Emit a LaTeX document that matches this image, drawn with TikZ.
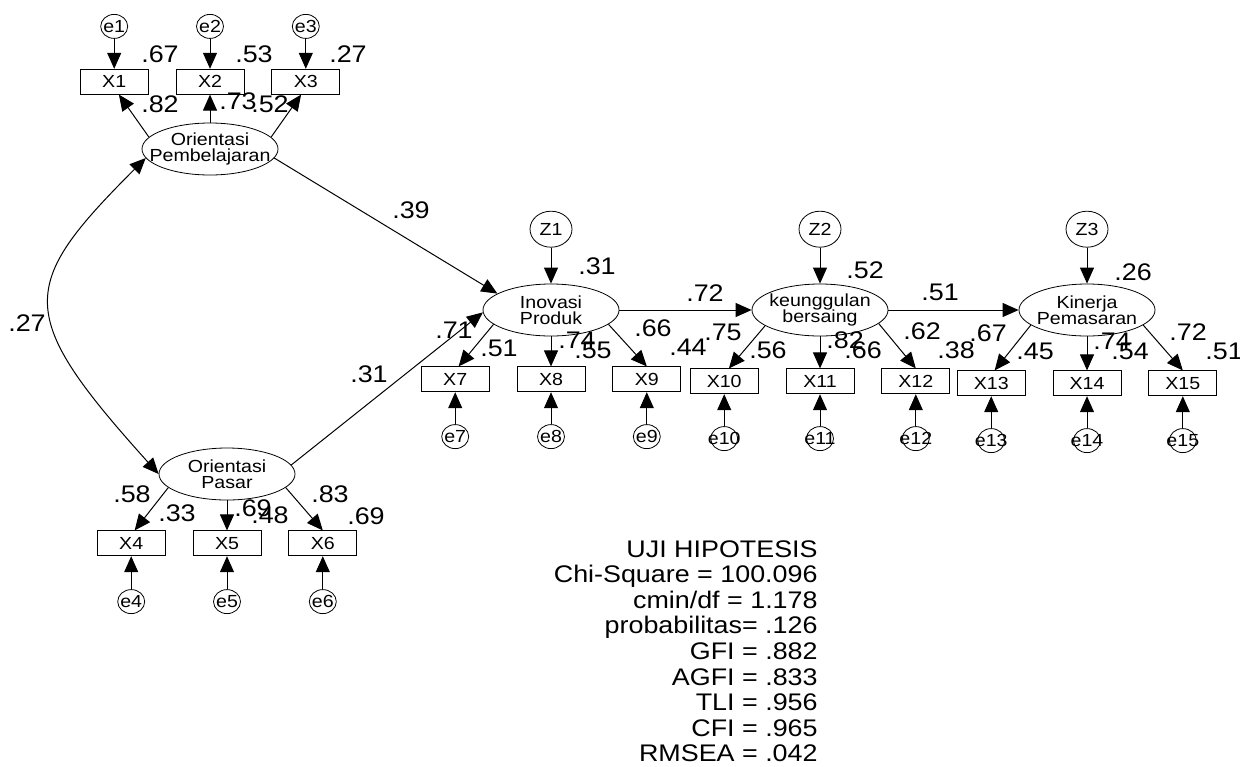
\documentclass[tikz,border=0pt]{standalone}
\usepackage{fontspec}
\setmainfont{Liberation Sans}[FakeStretch=1.12]
\usepackage{tikz}
\usetikzlibrary{arrows.meta,positioning,shapes.geometric}

\newcommand{\smallfnt}{\fontsize{8.75}{8}\selectfont\lineskiplimit=-5pt}
\newcommand{\bigfnt}{\fontsize{12}{12.8}\selectfont}

\begin{document}
\begin{tikzpicture}[
x=0.5pt, y=-0.5pt,
latent/.style={draw, ellipse, minimum width=68pt, minimum height=26pt, inner xsep=-12pt, inner ysep=0pt, align=center, font=\smallfnt},
obs/.style={draw, rectangle, minimum width=34pt, minimum height=12.5pt, inner sep=0pt, font=\smallfnt},
err/.style={draw, ellipse, minimum width=13.5pt, minimum height=12pt, inner xsep=-8pt, inner ysep=-4pt, font=\smallfnt},
dist/.style={draw, ellipse, minimum width=21pt, minimum height=18pt, inner sep=0pt, font=\smallfnt},
coef/.style={inner sep=0pt, font=\bigfnt},
arr/.style={-{Triangle[length=8pt,width=7pt]}, line width=0.5pt},
dblarr/.style={{Triangle[length=8pt,width=7pt]}-{Triangle[length=8pt,width=7pt]}, line width=0.5pt}
]
\useasboundingbox (0,0) rectangle (1240,766);

\node[latent] (OP) at (210,149) {Orientasi\\Pembelajaran};
\node[latent] (PS) at (227,474) {Orientasi\\Pasar};
\node[latent] (IP) at (551,310) {Inovasi\\Produk};
\node[latent] (KB) at (820,310) {keunggulan\\bersaing};
\node[latent] (KP) at (1087,310) {Kinerja\\Pemasaran};

\node[obs, above=14pt of OP] (X2) {X2};
\node[obs, left=13.5pt of X2] (X1) {X1};
\node[obs, right=13.5pt of X2] (X3) {X3};
\node[obs, below=15pt of PS] (X5) {X5};
\node[obs, left=13.5pt of X5] (X4) {X4};
\node[obs, right=13.5pt of X5] (X6) {X6};
\node[obs, below=15pt of IP] (X8) {X8};
\node[obs, left=13.5pt of X8] (X7) {X7};
\node[obs, right=13.5pt of X8] (X9) {X9};
\node[obs, below=16pt of KB] (X11) {X11};
\node[obs, left=13.5pt of X11] (X10) {X10};
\node[obs, right=13.5pt of X11] (X12) {X12};
\node[obs, below=17pt of KP] (X14) {X14};
\node[obs, left=13.5pt of X14] (X13) {X13};
\node[obs, right=13.5pt of X14] (X15) {X15};

\node[err, above=15pt of X1] (e1) {e1};
\node[err, above=15pt of X2] (e2) {e2};
\node[err, above=15pt of X3] (e3) {e3};
\node[err, below=16.5pt of X4] (e4) {e4};
\node[err, below=16.5pt of X5] (e5) {e5};
\node[err, below=16.5pt of X6] (e6) {e6};
\node[err, below=16pt of X7] (e7) {e7};
\node[err, below=16pt of X8] (e8) {e8};
\node[err, below=16pt of X9] (e9) {e9};
\node[err, below=16pt of X10] (e10) {e10};
\node[err, below=16pt of X11] (e11) {e11};
\node[err, below=16pt of X12] (e12) {e12};
\node[err, below=16pt of X13] (e13) {e13};
\node[err, below=16pt of X14] (e14) {e14};
\node[err, below=16pt of X15] (e15) {e15};

\node[dist, above=18pt of IP] (Z1) {Z1};
\node[dist, above=18pt of KB] (Z2) {Z2};
\node[dist, above=18pt of KP] (Z3) {Z3};

\draw[arr] (e1) -- (X1);
\draw[arr] (e2) -- (X2);
\draw[arr] (e3) -- (X3);
\draw[arr] (OP.169) -- (X1.-70);
\draw[arr] (OP) -- (X2);
\draw[arr] (OP.11) -- (X3.-110);
\draw[dblarr] (OP.188) .. controls +(-128,128) and +(-144,-160) .. (PS.west);
\draw[arr] (OP.-8) -- (IP.163);
\draw[arr] (PS.8) -- (IP.182);
\draw[arr] (PS.193) -- (X4.75);
\draw[arr] (PS) -- (X5);
\draw[arr] (PS.-13) -- (X6.north);
\draw[arr] (e4) -- (X4);
\draw[arr] (e5) -- (X5);
\draw[arr] (e6) -- (X6);
\draw[arr] (Z1) -- (IP);
\draw[arr] (IP.194) -- (X7.75);
\draw[arr] (IP) -- (X8);
\draw[arr] (IP.-14) -- (X9.north);
\draw[arr] (e7) -- (X7);
\draw[arr] (e8) -- (X8);
\draw[arr] (e9) -- (X9);
\draw[arr] (IP) -- (KB);
\draw[arr] (Z2) -- (KB);
\draw[arr] (KB.196) -- (X10.70);
\draw[arr] (KB) -- (X11);
\draw[arr] (KB.-13) -- (X12.north);
\draw[arr] (e10) -- (X10);
\draw[arr] (e11) -- (X11);
\draw[arr] (e12) -- (X12);
\draw[arr] (KB) -- (KP);
\draw[arr] (Z3) -- (KP);
\draw[arr] (KP.195) -- (X13.75);
\draw[arr] (KP) -- (X14);
\draw[arr] (KP.-15) -- (X15.north);
\draw[arr] (e13) -- (X13);
\draw[arr] (e14) -- (X14);
\draw[arr] (e15) -- (X15);

\node[coef] (r1) at (160,54) {.67};
\node[coef] (r2) at (254,54) {.53};
\node[coef] (r3) at (348,54) {.27};
\node[coef] (l1) at (160,104) {.82};
\node[coef] (l2) at (238,101) {.73};
\node[coef] (l3) at (270,104) {.52};
\node[coef] (cov) at (27,323) {.27};
\node[coef] (p1) at (411,210) {.39};
\node[coef] (p2) at (369,374) {.31};
\node[coef] (p3) at (705,293) {.72};
\node[coef] (p4) at (940,292) {.51};
\node[coef] (rz1) at (597,266) {.31};
\node[coef] (rz2) at (865,270) {.52};
\node[coef] (rz3) at (1133,272) {.26};
\node[coef] (l4) at (132,494) {.58};
\node[coef] (r4) at (177,513) {.33};
\node[coef] (l5) at (253,508) {.69};
\node[coef] (r5) at (270,515) {.48};
\node[coef] (l6) at (330,494) {.83};
\node[coef] (r6) at (366,516) {.69};
\node[coef] (l7) at (454,330) {.71};
\node[coef] (r7) at (499,348) {.51};
\node[coef] (l8) at (577,340) {.74};
\node[coef] (r8) at (593,350) {.55};
\node[coef] (l9) at (653,328) {.66};
\node[coef] (r9) at (688,347) {.44};
\node[coef] (l10) at (723,332) {.75};
\node[coef] (r10) at (768,350) {.56};
\node[coef] (l11) at (845,340) {.82};
\node[coef] (r11) at (863,350) {.66};
\node[coef] (l12) at (922,331) {.62};
\node[coef] (r12) at (956,350) {.38};
\node[coef] (l13) at (988,333) {.67};
\node[coef] (r13) at (1035,351) {.45};
\node[coef] (l14) at (1112,341) {.74};
\node[coef] (r14) at (1130,351) {.54};
\node[coef] (l15) at (1188,332) {.72};
\node[coef] (r15) at (1224,351) {.51};

\node[coef, align=right, anchor=north east] (uji) at (818,540) {UJI HIPOTESIS\\Chi-Square = 100.096\\cmin/df = 1.178\\probabilitas= .126\\GFI = .882\\AGFI = .833\\TLI = .956\\CFI = .965\\RMSEA = .042};
\end{tikzpicture}
\end{document}
